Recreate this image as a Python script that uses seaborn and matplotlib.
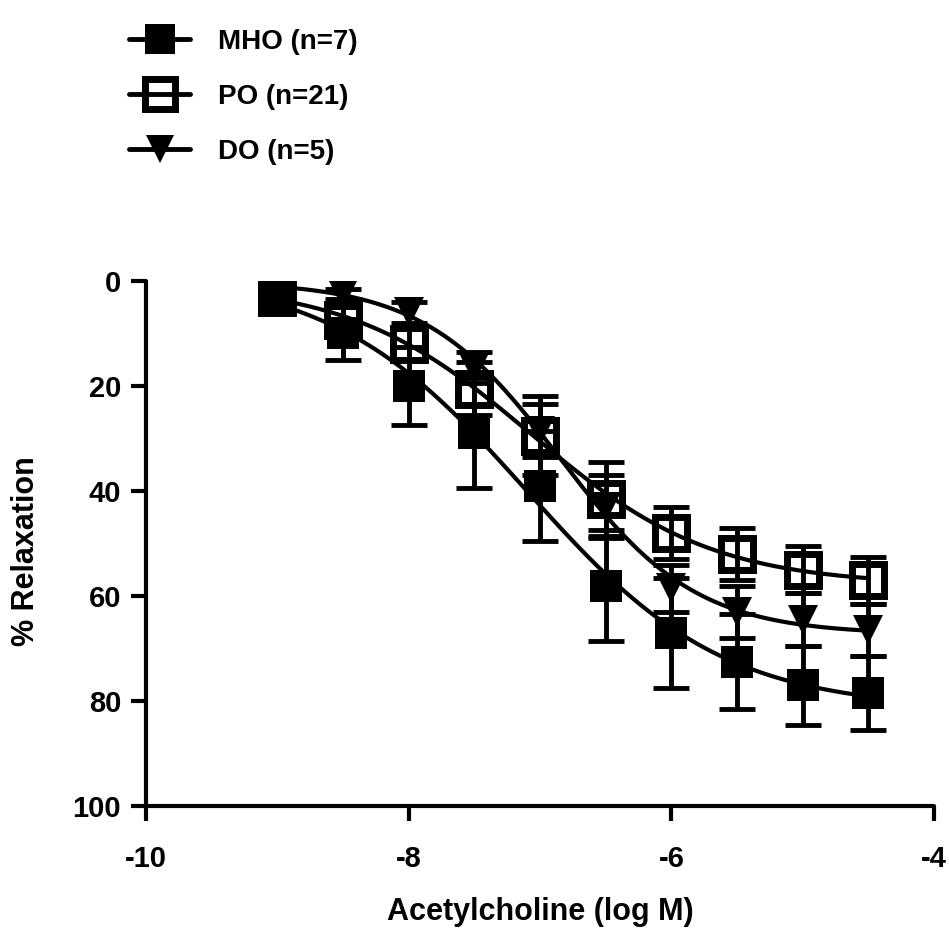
import numpy as np
import pandas as pd
import seaborn as sns
import matplotlib.pyplot as plt
from matplotlib.lines import Line2D

# log molar concentration of acetylcholine
log_conc = [-9.0, -8.5, -8.0, -7.5, -7.0, -6.5, -6.0, -5.5, -5.0, -4.5]

# mean % relaxation and SEM per group
mho_mean = [3.0, 10.0, 20.0, 29.0, 39.0, 58.0, 67.0, 72.5, 77.0, 78.5]
mho_sem = [1.0, 5.0, 7.5, 10.5, 10.5, 10.5, 10.5, 9.0, 7.5, 7.0]

po_mean = [3.0, 7.5, 12.0, 20.5, 29.5, 41.5, 48.0, 52.0, 55.0, 57.0]
po_sem = [1.0, 2.5, 3.0, 5.0, 7.5, 7.0, 5.0, 5.0, 4.5, 4.5]

do_mean = [1.0, 2.5, 6.0, 16.5, 28.5, 43.0, 58.5, 63.0, 64.5, 66.5]
do_sem = [0.5, 1.0, 2.0, 3.0, 5.0, 6.0, 4.5, 5.0, 5.0, 5.0]

labels = ["MHO (n=7)", "PO (n=21)", "DO (n=5)"]


def fit_sigmoid(x, y):
    # four-parameter logistic, grid over logEC50 / slope, linear solve for bottom/top
    x = np.asarray(x)
    y = np.asarray(y)
    ec50 = np.arange(-9.0, -5.0, 0.01)
    hill = np.arange(0.3, 2.0, 0.01)
    best = None
    for e in ec50:
        s = 1.0 / (1.0 + 10 ** ((e - x[None, :]) * hill[:, None]))
        for i, h in enumerate(hill):
            A = np.column_stack([1 - s[i], s[i]])
            coef, *_ = np.linalg.lstsq(A, y, rcond=None)
            err = np.sum((A @ coef - y) ** 2)
            if best is None or err < best[0]:
                best = (err, coef[0], coef[1], e, h)
    _, b, t, e, h = best
    return lambda xx: b + (t - b) / (1 + 10 ** ((e - xx) * h))


sns.set_theme(style="ticks")
plt.rcParams["font.family"] = ["Liberation Sans", "DejaVu Sans"]
plt.rcParams["font.weight"] = "bold"
plt.rcParams["axes.labelweight"] = "bold"
plt.rcParams["axes.unicode_minus"] = False
for k in ["text.color", "axes.labelcolor", "xtick.color", "ytick.color", "axes.edgecolor"]:
    plt.rcParams[k] = "black"

fig = plt.figure(figsize=(9.49, 9.30), dpi=100)
ax = fig.add_axes([146 / 949, 124 / 930, 788 / 949, 525 / 930])

groups = [
    ("MHO", mho_mean, mho_sem, dict(marker="s", markersize=23, mfc="black", mec="black", mew=0)),
    ("PO", po_mean, po_sem, dict(marker="s", markersize=23, mfc="none", mec="black", mew=5)),
    ("DO", do_mean, do_sem, dict(marker="v", markersize=21, mfc="black", mec="black", mew=0)),
]

xs = np.linspace(-9, -4.5, 300)
curves = []
for name, mean, sem, style in groups:
    f = fit_sigmoid(log_conc, mean)
    curves.append(pd.DataFrame({"x": xs, "y": f(xs), "group": name}))
curve_df = pd.concat(curves, ignore_index=True)

sns.lineplot(data=curve_df, x="x", y="y", hue="group", estimator=None,
             palette=["black"] * 3, linewidth=3, legend=False, ax=ax, zorder=2)

# draw DO first, MHO on top
for z, (name, mean, sem, style) in zip([5, 4, 3], groups):
    ax.errorbar(log_conc, mean, yerr=sem, fmt="none", ecolor="black",
                elinewidth=3.5, capsize=13, capthick=3.5, zorder=z)
    ax.plot(log_conc, mean, linestyle="none", color="black", zorder=z + 0.5, **style)

ax.set_xlim(-10, -4)
ax.set_ylim(100, 0)
ax.set_xticks([-10, -8, -6, -4])
ax.set_yticks([0, 20, 40, 60, 80, 100])
sns.despine(ax=ax)
for sp in ["left", "bottom"]:
    ax.spines[sp].set_linewidth(3)
    ax.spines[sp].set_color("black")
    ax.spines[sp].set_capstyle("round")
ax.tick_params(width=3, length=11, labelsize=21, colors="black")
ax.tick_params(axis="x", pad=17)
ax.tick_params(axis="y", pad=7)
for lab in ax.get_xticklabels() + ax.get_yticklabels():
    lab.set_fontweight("bold")

ax.set_xlabel("Acetylcholine (log M)", fontsize=22, fontweight="bold", labelpad=17)
ax.set_ylabel("% Relaxation", fontsize=22, fontweight="bold")
ax.yaxis.set_label_coords(-0.133, 0.486)

handles = [Line2D([0], [0], color="black", linewidth=3.5, **g[3]) for g in groups]
for h in handles:
    h.set_markersize(h.get_markersize() * 0.95)
leg = ax.legend(handles, labels, loc="upper left", bbox_to_anchor=(104 / 949, 1 - 4 / 930),
                bbox_transform=fig.transFigure, frameon=False, fontsize=20,
                handlelength=2.2, handletextpad=1.0, labelspacing=1.04)
for t in leg.get_texts():
    t.set_fontweight("bold")

fig.savefig("out.png", dpi=100)
